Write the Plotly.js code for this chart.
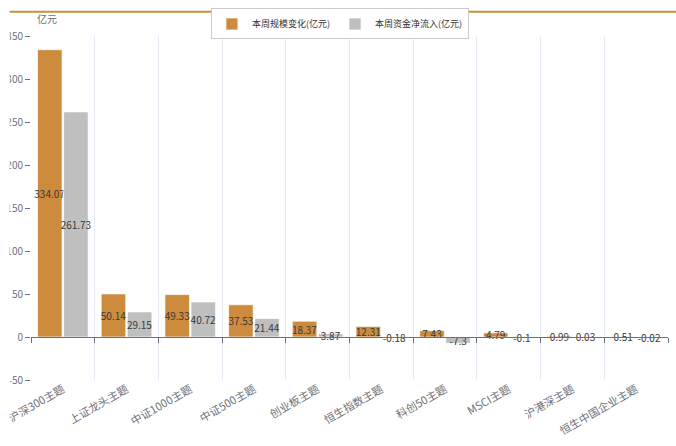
<!DOCTYPE html>
<html>
<head>
<meta charset="utf-8">
<script src="https://cdn.plot.ly/plotly-3.0.1.min.js"></script>
<style>html,body{margin:0;padding:0;background:#fff;}#chart{width:676px;height:446px;}</style>
</head>
<body>
<div id="chart"></div>
<script>
var categories = ["沪深300主题","上证龙头主题","中证1000主题","中证500主题","创业板主题","恒生指数主题","科创50主题","MSCI主题","沪港深主题","恒生中国企业主题"];
var scaleChange = [334.07, 50.14, 49.33, 37.53, 18.37, 12.31, 7.43, 4.79, 0.99, 0.51];
var netInflow = [261.73, 29.15, 40.72, 21.44, 3.87, -0.18, -7.3, -0.1, 0.03, -0.02];
var seriesNames = ["本周规模变化(亿元)", "本周资金净流入(亿元)"];
var yTicks = [-50, 0, 50, 100, 150, 200, 250, 300, 350];

var FONT = '"Noto Sans CJK SC", "Noto Sans", sans-serif';
var axisGray = '#6E7079';

function barTrace(name, vals, color) {
  return {
    type: 'bar', name: name, x: categories, y: vals,
    marker: {color: color, line: {color: 'rgba(255,255,255,0.7)', width: 1}},
    text: vals.map(function(v){ return String(v); }),
    textposition: 'inside', insidetextanchor: 'middle', constraintext: 'none', textangle: 0,
    textfont: {family: FONT, size: 10, color: '#3a3a3a'},
    cliponaxis: false, hoverinfo: 'x+y'
  };
}

var traces = [
  barTrace(seriesNames[0], scaleChange, '#CD8B3D'),
  barTrace(seriesNames[1], netInflow, '#BFBFBF'),
  {type: 'scatter', mode: 'none', x: categories, y: categories.map(function(){return 0;}),
   xaxis: 'x2', yaxis: 'y', showlegend: false, hoverinfo: 'skip'}
];

var layout = {
  width: 676, height: 446,
  margin: {l: 31, r: 8, t: 32, b: 66},
  paper_bgcolor: '#fff', plot_bgcolor: '#fff',
  font: {family: FONT, size: 10, color: axisGray},
  barmode: 'group', bargap: 0.18, bargroupgap: 0.06,
  showlegend: true,
  legend: {orientation: 'h', x: 0.485, xanchor: 'center', y: 1.08, yanchor: 'top',
    bordercolor: '#cccccc', borderwidth: 1, font: {family: FONT, size: 9, color: '#333'},
    itemwidth: 30, tracegroupgap: 0},
  xaxis: {
    type: 'category', range: [-0.5, 9.5], tickson: 'boundaries',
    showgrid: true, gridcolor: '#E6E8F3', gridwidth: 1,
    ticks: '', showline: false, zeroline: false,
    tickangle: -30, tickfont: {family: FONT, size: 11, color: axisGray},
    fixedrange: true
  },
  xaxis2: {
    type: 'category', range: [-0.5, 9.5], overlaying: 'x', anchor: 'free', position: 0.125,
    tickson: 'boundaries', ticks: 'outside', ticklen: 5, tickcolor: axisGray,
    showticklabels: false, showgrid: false, zeroline: false,
    showline: true, linecolor: axisGray, linewidth: 1
  },
  yaxis: {
    range: [-50, 350], tickvals: yTicks, ticktext: yTicks.map(String),
    ticks: 'outside', ticklen: 5, tickcolor: axisGray,
    showgrid: false, zeroline: false, showline: false,
    tickfont: {family: FONT, size: 10, color: axisGray}
  },
  annotations: [
    {text: '亿元', xref: 'paper', yref: 'paper', x: 0.006, y: 1.05, xanchor: 'left', yanchor: 'middle',
     showarrow: false, font: {family: FONT, size: 10, color: axisGray}}
  ],
  shapes: [
    {type: 'rect', xref: 'paper', yref: 'paper', x0: -0.06, x1: -0.0335, y0: -0.3, y1: 1.1,
     fillcolor: '#ffffff', line: {width: 0}, layer: 'above'},
    {type: 'line', xref: 'paper', yref: 'paper', x0: -0.0335, x1: 1.02, y0: 1.0705, y1: 1.0705,
     line: {color: '#C8913A', width: 2}, layer: 'above'}
  ]
};

Plotly.newPlot('chart', traces, layout, {displayModeBar: false, staticPlot: true});
</script>
</body>
</html>
